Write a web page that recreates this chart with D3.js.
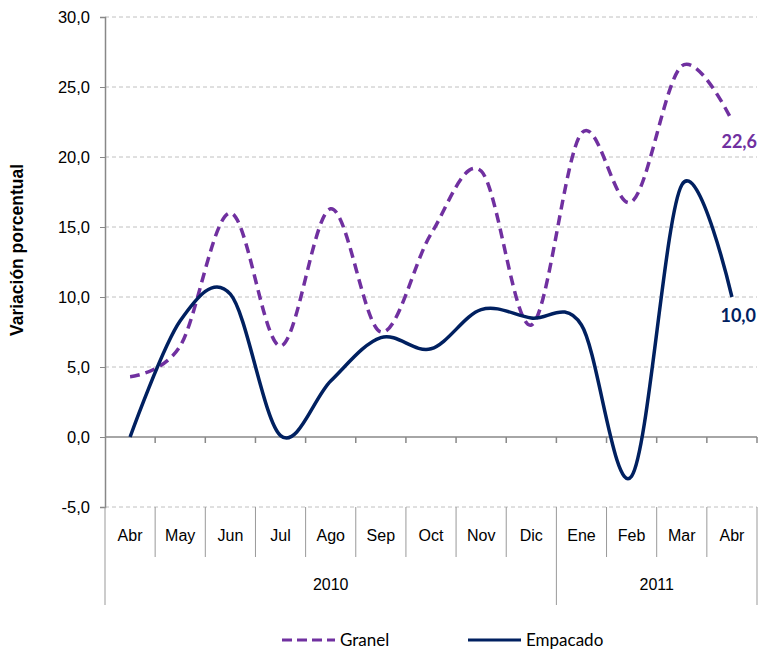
<!DOCTYPE html>
<html>
<head>
<meta charset="utf-8">
<script src="https://cdn.jsdelivr.net/npm/d3@7"></script>
<style>
body { margin: 0; background: #fff; }
</style>
</head>
<body>
<svg width="760" height="653"></svg>
<script>
var months = ['Abr', 'May', 'Jun', 'Jul', 'Ago', 'Sep', 'Oct', 'Nov', 'Dic', 'Ene', 'Feb', 'Mar', 'Abr'];
var years = [{ label: '2010', from: 0, to: 9 }, { label: '2011', from: 9, to: 13 }];
var granel = [4.3, 6.5, 16.0, 6.5, 16.3, 7.5, 14.5, 19.0, 8.0, 21.7, 16.8, 26.5, 22.6];
var empacado = [0.0, 8.3, 10.2, 0.1, 4.0, 7.1, 6.3, 9.1, 8.5, 8.0, -2.8, 18.0, 10.0];
var yTicks = [-5, 0, 5, 10, 15, 20, 25, 30];

var svg = d3.select('svg');
var plotL = 105, plotR = 757, plotT = 17, plotB = 507;

var x = d3.scaleBand().domain(d3.range(months.length)).range([plotL, plotR]);
var y = d3.scaleLinear().domain([-5, 30]).range([plotB, plotT]);
var fmt = function (v) { return d3.format('.1f')(v).replace('.', ',').replace('\u2212', '-'); };

// grid
svg.append('g').selectAll('line').data(yTicks).enter().append('line')
        .attr('x1', plotL).attr('x2', plotR)
        .attr('y1', function (d) { return y(d); }).attr('y2', function (d) { return y(d); })
        .attr('stroke', '#c0c0c0').attr('stroke-width', 1).attr('stroke-dasharray', '4,3')
        .attr('opacity', function (d) { return d === 0 ? 0 : 1; });

// y axis
var yAxis = d3.axisLeft(y).tickValues(yTicks).tickSize(5).tickFormat(fmt);
var ya = svg.append('g').attr('transform', 'translate(' + plotL + ',0)').call(yAxis);
ya.select('.domain').attr('stroke', '#888').attr('stroke-width', 1.5);
ya.selectAll('line').attr('stroke', '#888');
ya.selectAll('text').attr('font-family', 'Liberation Sans, Arial, sans-serif').attr('font-size', 16.5).attr('fill', '#000').attr('dx', -7);

// zero line with ticks between categories
svg.append('line').attr('x1', plotL).attr('x2', plotR).attr('y1', y(0)).attr('y2', y(0))
        .attr('stroke', '#888').attr('stroke-width', 1.5);
svg.append('g').selectAll('line').data(d3.range(1, months.length + 1)).enter().append('line')
        .attr('x1', function (d) { return plotL + d * x.step(); }).attr('x2', function (d) { return plotL + d * x.step(); })
        .attr('y1', y(0)).attr('y2', y(0) + 6).attr('stroke', '#888').attr('stroke-width', 1.5);

// category separators below plot
svg.append('g').selectAll('line').data(d3.range(0, months.length + 1)).enter().append('line')
        .attr('x1', function (d) { return plotL + d * x.step(); }).attr('x2', function (d) { return plotL + d * x.step(); })
        .attr('y1', plotB).attr('y2', function (d) { return (d === 0 || d === 9 || d === months.length) ? 605 : 557; })
        .attr('stroke', '#999').attr('stroke-width', 1);

svg.append('g').selectAll('text').data(months).enter().append('text')
        .attr('x', function (d, i) { return x(i) + x.bandwidth() / 2; }).attr('y', 541)
        .attr('text-anchor', 'middle').attr('font-family', 'Liberation Sans, Arial, sans-serif').attr('font-size', 16)
        .text(function (d) { return d; });

svg.append('g').selectAll('text').data(years).enter().append('text')
        .attr('x', function (d) { return plotL + (d.from + d.to) / 2 * x.step(); }).attr('y', 590)
        .attr('text-anchor', 'middle').attr('font-family', 'Liberation Sans, Arial, sans-serif').attr('font-size', 16)
        .text(function (d) { return d.label; });

// axis title
svg.append('text').attr('transform', 'translate(23,250) rotate(-90)')
        .attr('text-anchor', 'middle').attr('font-family', 'Liberation Sans, Arial, sans-serif')
        .attr('font-weight', 'bold').attr('font-size', 17.5).text('Variación porcentual');

// lines
var line = d3.line()
        .x(function (d, i) { return x(i) + x.bandwidth() / 2; })
        .y(function (d) { return y(d); })
        .curve(d3.curveCardinal.tension(0));

svg.append('path').datum(granel).attr('d', line).attr('fill', 'none')
        .attr('stroke', '#7030a0').attr('stroke-width', 3.5).attr('stroke-dasharray', '10,6');
svg.append('path').datum(empacado).attr('d', line).attr('fill', 'none')
        .attr('stroke', '#002060').attr('stroke-width', 3.5);

var last = months.length - 1;
svg.append('text').attr('x', 757).attr('y', y(granel[last]) + 27)
        .attr('text-anchor', 'end').attr('font-family', 'Lato, sans-serif').attr('font-weight', 'bold')
        .attr('font-size', 18).attr('fill', '#7030a0').text(fmt(granel[last]));
svg.append('text').attr('x', 756).attr('y', y(empacado[last]) + 25)
        .attr('text-anchor', 'end').attr('font-family', 'Lato, sans-serif').attr('font-weight', 'bold')
        .attr('font-size', 18).attr('fill', '#002060').text(fmt(empacado[last]));

// legend
var legend = [{ name: 'Granel', color: '#7030a0', dash: '10,5', x: 282 }, { name: 'Empacado', color: '#002060', dash: null, x: 468 }];
var lg = svg.append('g').selectAll('g').data(legend).enter().append('g');
lg.append('line').attr('x1', function (d) { return d.x; }).attr('x2', function (d) { return d.x + 53; })
        .attr('y1', 640).attr('y2', 640).attr('stroke', function (d) { return d.color; })
        .attr('stroke-width', 3).attr('stroke-dasharray', function (d) { return d.dash; });
lg.append('text').attr('x', function (d) { return d.x + 58; }).attr('y', 646)
        .attr('font-family', 'Lato, sans-serif').attr('font-size', 17).text(function (d) { return d.name; });
</script>
</body>
</html>
